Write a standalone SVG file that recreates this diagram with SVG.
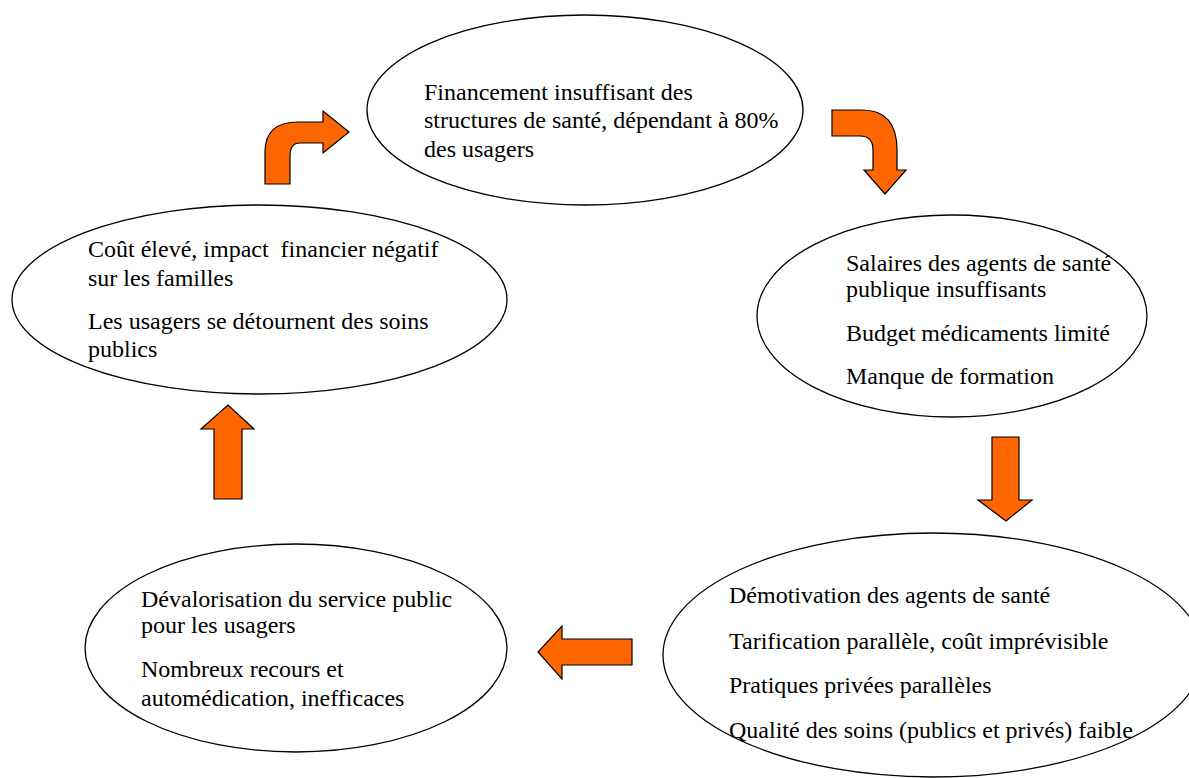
<svg xmlns="http://www.w3.org/2000/svg" width="1189" height="778" viewBox="0 0 1189 778">
<style>
.node ellipse{fill:#fff;stroke:#000;stroke-width:1.3}
.node text{font-family:"Liberation Serif","Times New Roman",serif;font-size:24px;fill:#000}
.arrow{fill:#FF6600;stroke:#000;stroke-width:1.2;stroke-linejoin:miter}
</style>
<rect width="1189" height="778" fill="#fff"/>
<g id="n-financement" class="node">
<ellipse cx="585" cy="110" rx="218" ry="95"/>
<text x="424" y="100">Financement insuffisant des</text>
<text x="424" y="128">structures de santé, dépendant à 80%</text>
<text x="424" y="157">des usagers</text>
</g>
<g id="n-salaires" class="node">
<ellipse cx="952" cy="316" rx="195" ry="101"/>
<text x="846" y="271">Salaires des agents de santé</text>
<text x="846" y="297">publique insuffisants</text>
<text x="846" y="341">Budget médicaments limité</text>
<text x="846" y="384">Manque de formation</text>
</g>
<g id="n-demotivation" class="node">
<ellipse cx="933" cy="655" rx="270" ry="122"/>
<text x="729" y="603">Démotivation des agents de santé</text>
<text x="729" y="649">Tarification parallèle, coût imprévisible</text>
<text x="729" y="693">Pratiques privées parallèles</text>
<text x="729" y="738">Qualité des soins (publics et privés) faible</text>
</g>
<g id="n-devalorisation" class="node">
<ellipse cx="296" cy="648" rx="211" ry="104"/>
<text x="141" y="607">Dévalorisation du service public</text>
<text x="141" y="633">pour les usagers</text>
<text x="141" y="677">Nombreux recours et</text>
<text x="141" y="706">automédication, inefficaces</text>
</g>
<g id="n-cout" class="node">
<ellipse cx="259.5" cy="299.5" rx="247.5" ry="94.5"/>
<text x="88" y="257" xml:space="preserve">Coût élevé, impact  financier négatif</text>
<text x="88" y="286">sur les familles</text>
<text x="88" y="329">Les usagers se détournent des soins</text>
<text x="88" y="357">publics</text>
</g>
<g id="connectors">
<path class="arrow" d="M832,110 L862,110 Q897,110 897,150 L897,170 L906,170 L885,194 L864,170 L873,170 L873,150 Q873,136 860,136 L832,136 Z"/>
<path class="arrow" d="M992,437 L1019,437 L1019,500 L1032,500 L1006,521 L978,500 L992,500 Z"/>
<path class="arrow" d="M632,639 L632,665 L562,665 L562,679 L538,652 L562,626 L562,639 Z"/>
<path class="arrow" d="M214,499 L214,429 L201,429 L228,405 L254,429 L242,429 L242,499 Z"/>
<path class="arrow" d="M265,184 L265,152 Q265,122 298,122 L323,122 L323,111 L349,132 L323,153 L323,143 L300,143 Q290,143 290,156 L290,184 Z"/>
</g>
</svg>
